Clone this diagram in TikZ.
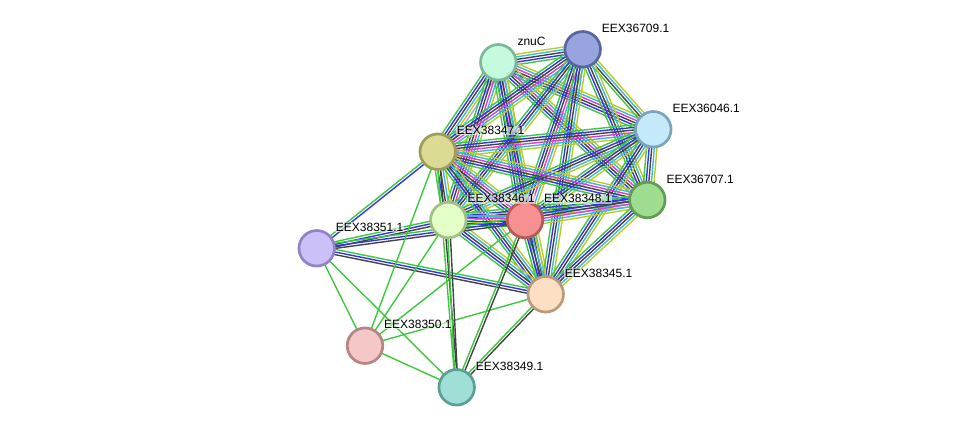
\documentclass[tikz,border=0pt]{standalone}
\usepackage{fontspec}
\setmainfont{Liberation Sans}
\usetikzlibrary{calc}
\pgfdeclarelayer{background}
\pgfsetlayers{background,main}
\definecolor{sG}{HTML}{3DC83D}
\definecolor{sB}{HTML}{3434F0}
\definecolor{sK}{HTML}{444444}
\definecolor{sM}{HTML}{DD3BDD}
\definecolor{sC}{HTML}{3CB9DC}
\definecolor{sY}{HTML}{BCCC22}
\definecolor{sL}{HTML}{A6A6FF}
\definecolor{fZ}{HTML}{C4FADD}\definecolor{dZ}{HTML}{7DB89B}
\definecolor{fA}{HTML}{98A4E0}\definecolor{dA}{HTML}{5A64A0}
\definecolor{fB}{HTML}{C4E9FA}\definecolor{dB}{HTML}{7BA4BD}
\definecolor{fC}{HTML}{DCDB94}\definecolor{dC}{HTML}{9E9D5A}
\definecolor{fD}{HTML}{9EDD90}\definecolor{dD}{HTML}{5F9E56}
\definecolor{fE}{HTML}{E3FFC7}\definecolor{dE}{HTML}{A2BF88}
\definecolor{fF}{HTML}{F79191}\definecolor{dF}{HTML}{B55959}
\definecolor{fG}{HTML}{FDE0C3}\definecolor{dG}{HTML}{B99A7A}
\definecolor{fH}{HTML}{CBC0F7}\definecolor{dH}{HTML}{9483C3}
\definecolor{fI}{HTML}{F6C7C7}\definecolor{dI}{HTML}{B58585}
\definecolor{fJ}{HTML}{9EE0D6}\definecolor{dJ}{HTML}{5E9E95}
\tikzset{
  prot/.style={circle,minimum size=35.5pt,inner sep=0pt,line width=2.7pt,fill=f#1,draw=d#1},
  lab/.style={anchor=base west,inner sep=0.5pt,font=\fontsize{12}{14}\selectfont,text=black,fill=white,fill opacity=0.55,text opacity=1},
  edgeline/.style={line width=1.4pt}
}
\newcommand{\edgebundle}[3]{%
  \begin{pgfonlayer}{background}
  \gdef\nbund{0}%
  \foreach \c in {#3}{\xdef\nbund{\the\numexpr\nbund+1\relax}}%
  \foreach \c [count=\i] in {#3}{
    \pgfmathsetmacro\off{(\i-(\nbund+1)/2)*2.6}
    \draw[edgeline,draw=\c] ($(#1)!\off pt!90:(#2)$) -- ($(#2)!\off pt!-90:(#1)$);
  }
  \end{pgfonlayer}}
\begin{document}
\begin{tikzpicture}[x=1pt,y=-1pt]
\useasboundingbox (0,0) rectangle (975,433);
% nodes
\node[prot=Z] (Z) at (498.3,62.3) {};
\node[prot=A] (A) at (582.7,49.3) {};
\node[prot=B] (B) at (653.3,129.3) {};
\node[prot=C] (C) at (437.7,151.7) {};
\node[prot=D] (D) at (647.3,200) {};
\node[prot=E] (E) at (448.3,220) {};
\node[prot=F] (F) at (525,220) {};
\node[prot=G] (G) at (545.7,294.3) {};
\node[prot=H] (H) at (316.7,248.3) {};
\node[prot=I] (I) at (365,345.7) {};
\node[prot=J] (J) at (456.7,387.3) {};
% core edges
\edgebundle{Z}{A}{sG,sB,sK,sC,sY}
\edgebundle{Z}{B}{sG,sB,sK,sM,sC,sY}
\edgebundle{Z}{C}{sG,sB,sK,sC,sY,sL}
\edgebundle{Z}{D}{sG,sB,sK,sM,sC,sY}
\edgebundle{Z}{E}{sG,sB,sK,sM,sC,sY}
\edgebundle{Z}{F}{sG,sB,sK,sM,sC,sY}
\edgebundle{Z}{G}{sG,sB,sK,sC,sY}
\edgebundle{A}{B}{sG,sK,sC,sY}
\edgebundle{A}{C}{sG,sB,sK,sM,sC,sY}
\edgebundle{A}{D}{sG,sB,sK,sC,sY}
\edgebundle{A}{E}{sG,sB,sK,sC,sY}
\edgebundle{A}{F}{sG,sB,sK,sM,sC,sY}
\edgebundle{A}{G}{sG,sB,sK,sC,sY}
\edgebundle{B}{C}{sG,sB,sK,sM,sC,sY}
\edgebundle{B}{D}{sG,sB,sK,sC,sY}
\edgebundle{B}{E}{sG,sB,sK,sC,sY}
\edgebundle{B}{F}{sG,sB,sK,sC,sY}
\edgebundle{B}{G}{sG,sB,sK,sC,sY}
\edgebundle{C}{D}{sG,sB,sK,sM,sC,sY}
\edgebundle{C}{E}{sG,sB,sK,sC,sY}
\edgebundle{C}{F}{sG,sB,sK,sM,sC,sY}
\edgebundle{C}{G}{sG,sB,sK,sC,sY}
\edgebundle{D}{E}{sG,sB,sK,sC,sY}
\edgebundle{D}{F}{sG,sB,sK,sM,sC,sY}
\edgebundle{D}{G}{sG,sB,sK,sC,sY}
\edgebundle{E}{F}{sG,sB,sK,sM,sC,sY}
\edgebundle{E}{G}{sG,sB,sK,sC,sY}
\edgebundle{F}{G}{sG,sB,sK,sC,sY}
% peripheral edges
\edgebundle{H}{C}{sB,sG}
\edgebundle{H}{E}{sK,sB,sG}
\edgebundle{H}{F}{sK,sB,sG}
\edgebundle{H}{G}{sK,sB,sG}
\edgebundle{H}{I}{sG}
\edgebundle{H}{J}{sG}
\edgebundle{I}{C}{sG}
\edgebundle{I}{E}{sG}
\edgebundle{I}{F}{sG}
\edgebundle{I}{G}{sG}
\edgebundle{I}{J}{sG}
\edgebundle{J}{C}{sK,sG}
\edgebundle{J}{E}{sK,sG}
\edgebundle{J}{F}{sK,sG}
\edgebundle{J}{G}{sK,sG}
% labels
\node[lab] (lZ) at ($(Z)+(18.5,-17)$) {znuC};
\node[lab] (lA) at ($(A)+(18.5,-17)$) {EEX36709.1};
\node[lab] (lB) at ($(B)+(18.5,-17)$) {EEX36046.1};
\node[lab] (lC) at ($(C)+(18.5,-17)$) {EEX38347.1};
\node[lab] (lD) at ($(D)+(18.5,-17)$) {EEX36707.1};
\node[lab] (lE) at ($(E)+(18.5,-17)$) {EEX38346.1};
\node[lab] (lF) at ($(F)+(18.5,-17)$) {EEX38348.1};
\node[lab] (lG) at ($(G)+(18.5,-17)$) {EEX38345.1};
\node[lab] (lH) at ($(H)+(18.5,-17)$) {EEX38351.1};
\node[lab] (lI) at ($(I)+(18.5,-17)$) {EEX38350.1};
\node[lab] (lJ) at ($(J)+(18.5,-17)$) {EEX38349.1};
\end{tikzpicture}
\end{document}
